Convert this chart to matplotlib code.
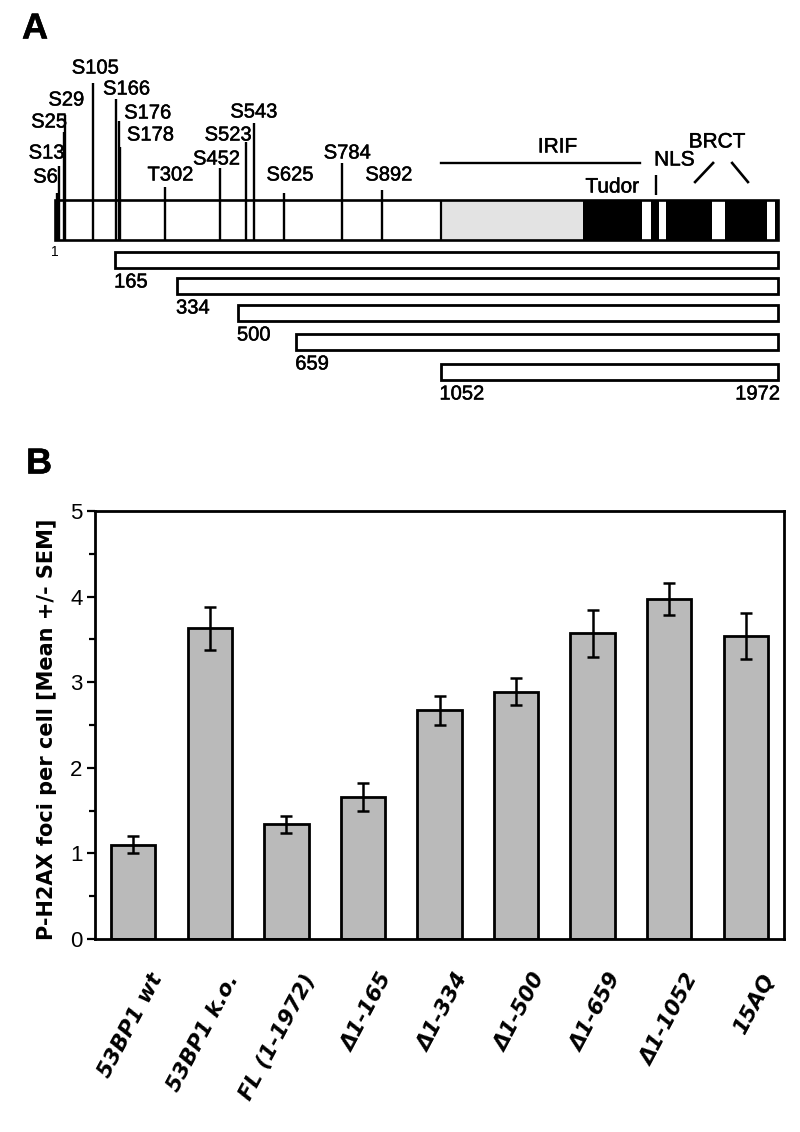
import numpy as np
import matplotlib
matplotlib.use("Agg")
import matplotlib.pyplot as plt
import matplotlib.patheffects as pe
from matplotlib.patches import Rectangle
from matplotlib.transforms import ScaledTranslation

plt.rcParams['font.family'] = ['Liberation Sans', 'DejaVu Sans']

# --- Panel A data: 53BP1 protein schematic (residue numbers) ---
protein_len = 1972
sites = [6, 13, 25, 29, 105, 166, 176, 178, 302, 452, 523, 543, 625, 784, 892]
site_labels = ['S6', 'S13', 'S25', 'S29', 'S105', 'S166', 'S176', 'S178',
               'T302', 'S452', 'S523', 'S543', 'S625', 'S784', 'S892']
irif_region = (1052, 1440)
black_blocks = [(1440, 1601), (1626, 1648), (1667, 1792), (1828, 1942), (1964, 1972)]
irif_line = (1052, 1596)
nls_pos = 1640
truncation_starts = [165, 334, 500, 659, 1052]

# --- Panel B data: P-H2AX foci per cell ---
constructs = ['53BP1 wt', '53BP1 k.o.', 'FL (1-1972)', 'Δ1-165', 'Δ1-334',
              'Δ1-500', 'Δ1-659', 'Δ1-1052', '15AQ']
foci_mean = [1.10, 3.63, 1.34, 1.66, 2.67, 2.89, 3.57, 3.97, 3.54]
foci_sem = [0.10, 0.25, 0.10, 0.16, 0.17, 0.16, 0.27, 0.19, 0.27]

W, H = 800, 1132
fig = plt.figure(figsize=(W / 100, H / 100), dpi=100)
thick = [pe.withStroke(linewidth=0.35, foreground='black')]

# ---------------- Panel A ----------------
k = 723 / (protein_len - 1)           # pixels per residue in the schematic
axa = fig.add_axes([0, 1 - 420 / H, 1, 420 / H])
axa.set_xlim(1 - 55 / k, 1 + 745 / k)
axa.set_ylim(420, 0)
axa.axis('off')

bar_top, bar_bot = 200, 240
axa.add_patch(Rectangle((irif_region[0], bar_top), irif_region[1] - irif_region[0],
                        bar_bot - bar_top, facecolor='#e3e3e3', edgecolor='none', zorder=1))
for s, e in black_blocks:
    axa.add_patch(Rectangle((s, bar_top), e - s, bar_bot - bar_top,
                            facecolor='black', edgecolor='none', zorder=1))
axa.vlines(irif_region[0], bar_top, bar_bot, color='black', lw=1.6, zorder=2)

# phosphorylation site stems (top y in px) and label offsets (px)
stem_tops = [193, 166, 132, 115, 83, 99, 121, 147, 187, 168, 142, 123, 193, 163, 190]
lab_off = [(1, 16, 'right'), (5, 13, 'right'), (3, 10, 'right'), (1, 15, 'center'),
           (2, 15, 'center'), (11, 10, 'center'), (5, 8, 'left'), (7, 12, 'left'),
           (5, 12, 'center'), (-4, 9, 'center'), (5, 7, 'right'), (0, 11, 'center'),
           (6, 18, 'center'), (5, 10, 'center'), (7, 15, 'center')]
axa.vlines(sites, stem_tops, bar_bot, color='black', lw=1.7, zorder=3)
for pos, top, lab, (dx, dy, ha) in zip(sites, stem_tops, site_labels, lab_off):
    axa.annotate(lab, (pos, top), xytext=(dx, dy), textcoords='offset pixels',
                 ha=ha, va='center', fontsize=14.5, path_effects=thick)

axa.add_patch(Rectangle((1, bar_top), protein_len - 1, bar_bot - bar_top,
                        facecolor='none', edgecolor='black', lw=1.9, zorder=4))
axa.text(1, 252, '1', ha='center', va='center', fontsize=10)

# domain annotations
axa.plot(irif_line, [163, 163], color='black', lw=1.7)
axa.text(np.mean([irif_region[0], 1690]), 147, 'IRIF', ha='center', va='center',
         fontsize=15, path_effects=thick)
axa.text(np.mean(black_blocks[0]), 187, 'Tudor', ha='center', va='center', fontsize=15,
         path_effects=thick)
axa.vlines(nls_pos, 175, 195, color='black', lw=1.7)
axa.text(nls_pos + 50, 160, 'NLS', ha='center', va='center', fontsize=15, path_effects=thick)
axa.text(1806, 142, 'BRCT', ha='center', va='center', fontsize=15, path_effects=thick)
axa.plot([1746, 1795], [182, 163], color='black', lw=1.9)
axa.plot([1847, 1890], [163, 182], color='black', lw=1.9)

# truncation constructs
row_tops = [252, 278, 305, 334, 364]
for start, top in zip(truncation_starts, row_tops):
    axa.add_patch(Rectangle((start, top), protein_len - start, 16,
                            facecolor='white', edgecolor='black', lw=2.0))
    axa.text(start - 3, top + 30, str(start), ha='left', va='center', fontsize=14.5,
             path_effects=thick)
axa.text(protein_len + 5, row_tops[-1] + 30, str(protein_len), ha='right', va='center',
         fontsize=14.5, path_effects=thick)

fig.text(22 / W, 1 - 29 / H, 'A', fontsize=26, fontweight='heavy', ha='left', va='center',
         path_effects=thick)
fig.text(26 / W, 1 - 464 / H, 'B', fontsize=26, fontweight='heavy', ha='left', va='center',
         path_effects=thick)

# ---------------- Panel B ----------------
axb = fig.add_axes([95 / W, 1 - 939 / H, 689 / W, 428 / H])
x = np.arange(len(constructs))
axb.bar(x, foci_mean, width=0.58, color='#bababa', edgecolor='black', lw=2.0, zorder=2)
axb.errorbar(x, foci_mean, yerr=foci_sem, fmt='none', ecolor='black', elinewidth=1.8,
             capsize=4.6, capthick=1.8, zorder=3)
axb.set_xlim(-0.5, len(constructs) - 0.5)
axb.set_ylim(0, 5)
axb.set_yticks(np.arange(0, 6, 1))
axb.set_yticks(np.arange(0.5, 5, 1), minor=True)
axb.tick_params(axis='y', which='major', direction='out', length=6, width=1.6,
                labelsize=16, pad=3)
axb.tick_params(axis='y', which='minor', direction='out', length=4, width=1.6)
for sp in axb.spines.values():
    sp.set_linewidth(2.0)

axb.set_xticks(x)
axb.set_xticklabels(constructs, rotation=62, ha='right', va='center',
                    rotation_mode='anchor', fontsize=15.5, fontweight='bold',
                    style='italic', family=['DejaVu Sans'])
axb.tick_params(axis='x', length=0, pad=26)
shift = ScaledTranslation(0.24, 0, fig.dpi_scale_trans)
for lbl in axb.get_xticklabels():
    lbl.set_transform(lbl.get_transform() + shift)

axb.set_ylabel('P-H2AX foci per cell [Mean +/- SEM]', fontsize=15, fontweight='bold',
               family=['DejaVu Sans'])
axb.yaxis.set_label_coords(-0.055, 0.49)

fig.savefig('out.png', dpi=100)
